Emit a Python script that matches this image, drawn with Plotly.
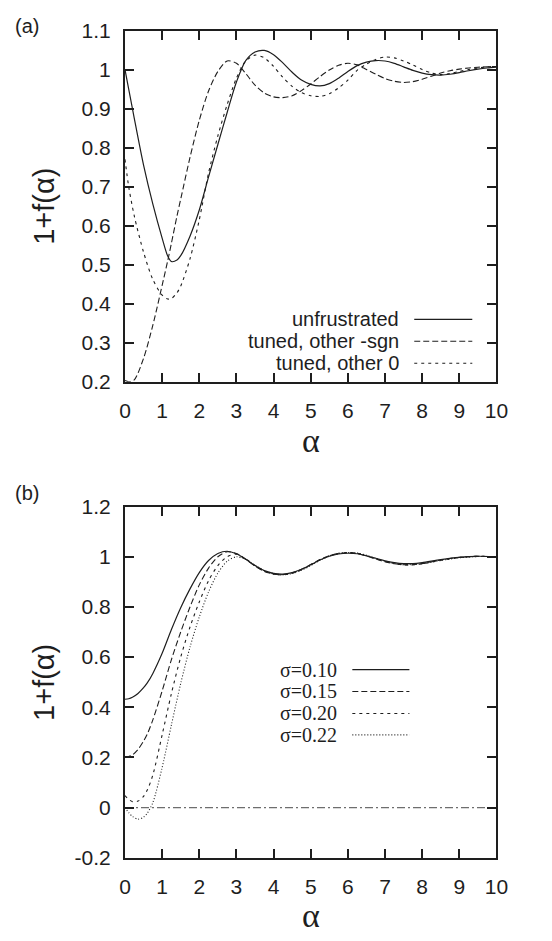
import plotly.graph_objects as go

# ---------------- data: panel (a) ----------------
alpha_a = [0, 0.1, 0.25, 0.5, 0.75, 1.0, 1.15, 1.25, 1.4, 1.5, 1.75, 2.0, 2.25, 2.5,
           2.75, 3.0, 3.25, 3.5, 3.75, 4.0, 4.25, 4.5, 4.75, 5.0, 5.25, 5.5, 5.75,
           6.0, 6.25, 6.5, 6.75, 7.0, 7.25, 7.5, 7.75, 8.0, 8.25, 8.5, 8.75, 9.0,
           9.25, 9.5, 9.75, 10.0]
unfrustrated = [1.0, 0.95, 0.875, 0.755, 0.655, 0.568, 0.522, 0.508, 0.512, 0.523,
                0.573, 0.64, 0.725, 0.808, 0.89, 0.968, 1.023, 1.045, 1.049, 1.038,
                1.017, 0.993, 0.973, 0.962, 0.958, 0.964, 0.978, 0.995, 1.01, 1.019,
                1.023, 1.022, 1.016, 1.007, 0.998, 0.991, 0.987, 0.986, 0.988, 0.992,
                0.997, 1.001, 1.004, 1.006]
tuned_sgn = [0.203, 0.2, 0.205, 0.26, 0.345, 0.447, 0.51, 0.555, 0.625, 0.668,
             0.775, 0.87, 0.945, 0.995, 1.022, 1.016, 0.99, 0.96, 0.94, 0.93,
             0.928, 0.933, 0.946, 0.963, 0.982, 0.999, 1.011, 1.016, 1.012, 1.0,
             0.988, 0.977, 0.97, 0.967, 0.969, 0.975, 0.983, 0.991, 0.997, 1.001,
             1.004, 1.006, 1.007, 1.008]
tuned_zero = [0.77, 0.70, 0.625, 0.532, 0.462, 0.422, 0.412, 0.413, 0.428, 0.445,
              0.515, 0.615, 0.735, 0.83, 0.91, 0.978, 1.022, 1.037, 1.03, 1.008,
              0.98, 0.957, 0.941, 0.933, 0.931, 0.938, 0.953, 0.973, 0.998, 1.014,
              1.026, 1.032, 1.03, 1.022, 1.012, 1.0, 0.991, 0.987, 0.99, 0.995,
              1.0, 1.004, 1.007, 1.008]

# ---------------- data: panel (b) ----------------
alpha_b = [0, 0.1, 0.2, 0.35, 0.5, 0.6, 0.75, 1.0, 1.25, 1.5, 1.75, 2.0, 2.25, 2.5,
           2.75, 3.0, 3.25, 3.5, 3.75, 4.0, 4.25, 4.5, 4.75, 5.0, 5.25, 5.5, 5.75,
           6.0, 6.25, 6.5, 6.75, 7.0, 7.25, 7.5, 7.75, 8.0, 8.5, 9.0, 9.5, 10.0]
sigma_010 = [0.432, 0.434, 0.44, 0.455, 0.478, 0.497, 0.535, 0.615, 0.71, 0.797,
             0.872, 0.937, 0.985, 1.013, 1.022, 1.012, 0.99, 0.965, 0.945, 0.934,
             0.931, 0.937, 0.95, 0.968, 0.987, 1.002, 1.011, 1.014, 1.012, 1.004,
             0.994, 0.984, 0.977, 0.973, 0.973, 0.977, 0.989, 0.998, 1.002, 1.0]
sigma_015 = [0.202, 0.204, 0.21, 0.232, 0.265, 0.293, 0.35, 0.465, 0.59, 0.7,
             0.8, 0.888, 0.955, 1.0, 1.02, 1.013, 0.99, 0.963, 0.942, 0.931,
             0.929, 0.936, 0.95, 0.969, 0.989, 1.004, 1.013, 1.016, 1.013, 1.003,
             0.991, 0.98, 0.972, 0.968, 0.968, 0.973, 0.987, 0.998, 1.002, 1.0]
sigma_020 = [0.048, 0.033, 0.024, 0.026, 0.045, 0.07, 0.13, 0.29, 0.455, 0.6,
             0.72, 0.82, 0.905, 0.965, 1.0, 1.01, 0.992, 0.965, 0.943, 0.931,
             0.928, 0.934, 0.948, 0.967, 0.988, 1.004, 1.014, 1.017, 1.014, 1.004,
             0.992, 0.981, 0.973, 0.968, 0.968, 0.972, 0.986, 0.997, 1.002, 1.0]
sigma_022 = [0.0, -0.02, -0.035, -0.046, -0.038, -0.022, 0.02, 0.16, 0.33, 0.495,
             0.64, 0.76, 0.86, 0.935, 0.982, 1.0, 0.99, 0.967, 0.945, 0.933,
             0.929, 0.933, 0.946, 0.965, 0.986, 1.003, 1.013, 1.017, 1.015, 1.006,
             0.994, 0.983, 0.975, 0.97, 0.969, 0.972, 0.985, 0.996, 1.001, 1.0]
zero_x = [0, 10]
zero_y = [0, 0]

# ---------------- ticks / labels ----------------
x_ticks = [0, 1, 2, 3, 4, 5, 6, 7, 8, 9, 10]
ya_ticks = [0.2, 0.3, 0.4, 0.5, 0.6, 0.7, 0.8, 0.9, 1.0, 1.1]
ya_text = ["0.2", "0.3", "0.4", "0.5", "0.6", "0.7", "0.8", "0.9", "1", "1.1"]
yb_ticks = [-0.2, 0, 0.2, 0.4, 0.6, 0.8, 1.0, 1.2]
yb_text = ["-0.2", "0", "0.2", "0.4", "0.6", "0.8", "1", "1.2"]
legend_a = ["unfrustrated", "tuned, other -sgn", "tuned, other 0"]
legend_b = ["σ=0.10", "σ=0.15", "σ=0.20", "σ=0.22"]

W, H = 552, 941
def px(x):
    return x / W
def py(y):
    return 1 - y / H

INK = "#1e1e1e"
SANS = "Liberation Sans, Arial, Helvetica, sans-serif"
SERIF = "Liberation Serif, Times New Roman, serif"

styles_a = [dict(dash="solid", width=1.2), dict(dash="6px,3px", width=1.1),
            dict(dash="3px,4px", width=1.1)]
styles_b = [dict(dash="solid", width=1.2), dict(dash="6px,3px", width=1.1),
            dict(dash="3px,4px", width=1.1), dict(dash="1px,2px", width=1.1)]

fig = go.Figure()
for ys, st in zip([unfrustrated, tuned_sgn, tuned_zero], styles_a):
    fig.add_trace(go.Scatter(x=alpha_a, y=ys, mode="lines", xaxis="x", yaxis="y",
                             line=dict(color=INK, shape="spline", smoothing=0.8, **st),
                             showlegend=False, hoverinfo="skip"))
fig.add_trace(go.Scatter(x=zero_x, y=zero_y, mode="lines", xaxis="x2", yaxis="y2",
                         line=dict(color="#6e6e6e", width=1.1, dash="8px,3px,2px,3px"),
                         showlegend=False, hoverinfo="skip"))
for ys, st in zip([sigma_010, sigma_015, sigma_020, sigma_022], styles_b):
    fig.add_trace(go.Scatter(x=alpha_b, y=ys, mode="lines", xaxis="x2", yaxis="y2",
                             line=dict(color=INK, shape="spline", smoothing=0.8, **st),
                             showlegend=False, hoverinfo="skip"))

axis_common = dict(showgrid=False, zeroline=False, showline=True, linecolor=INK,
                   linewidth=2, mirror="ticks", ticks="inside", ticklen=9,
                   tickwidth=1.5, tickcolor=INK,
                   tickfont=dict(family=SANS, size=21, color=INK))

xdom = [px(123), px(507)]
fig.update_layout(
    width=W, height=H, margin=dict(l=0, r=0, t=0, b=0),
    paper_bgcolor="white", plot_bgcolor="white",
    xaxis=dict(domain=xdom, range=[0, 10], tickvals=x_ticks, anchor="y",
               ticklabelstandoff=9, **axis_common),
    yaxis=dict(domain=[py(379), py(19)], range=[0.2, 1.1], tickvals=ya_ticks,
               ticktext=ya_text, anchor="x", ticklabelstandoff=8, **axis_common),
    xaxis2=dict(domain=xdom, range=[0, 10], tickvals=x_ticks, anchor="y2",
                ticklabelstandoff=9, **axis_common),
    yaxis2=dict(domain=[py(867), py(507)], range=[-0.2, 1.2], tickvals=yb_ticks,
                ticktext=yb_text, anchor="x2", ticklabelstandoff=8, **axis_common),
)

ann = []
def text(x, y, s, size, family, xanchor="center", textangle=0):
    ann.append(dict(x=px(x), y=py(y), xref="paper", yref="paper", text=s,
                    showarrow=False, xanchor=xanchor, yanchor="middle",
                    textangle=textangle, font=dict(family=family, size=size, color=INK)))

text(22, 14, "(a)", 20, SANS)
text(22, 493, "(b)", 20, SANS)
text(39, 199, "1+f(α)", 29, SANS, textangle=-90)
text(39, 687, "1+f(α)", 29, SANS, textangle=-90)
text(315, 439, "α", 34, SERIF)
text(315, 926, "α", 34, SERIF)

shapes = []
rows_a = [315, 337.5, 360]
for lab, st, yy in zip(legend_a, styles_a, rows_a):
    text(408, yy, lab, 20, SANS, xanchor="right")
    shapes.append(dict(type="line", xref="paper", yref="paper", x0=px(422), x1=px(482),
                       y0=py(yy), y1=py(yy), line=dict(color=INK, **st)))
rows_b = [674, 696.5, 719, 741]
for lab, st, yy in zip(legend_b, styles_b, rows_b):
    text(344, yy, lab, 20, SERIF, xanchor="right")
    shapes.append(dict(type="line", xref="paper", yref="paper", x0=px(358), x1=px(417),
                       y0=py(yy), y1=py(yy), line=dict(color=INK, **st)))

fig.update_layout(annotations=ann, shapes=shapes)
fig.write_html("out.html", config={"displayModeBar": False},
               post_script="document.body.style.margin='0';"
                           "document.body.style.overflow='hidden';")
